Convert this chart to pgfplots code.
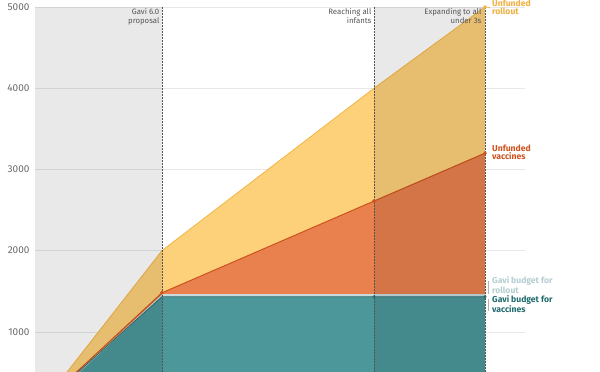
\documentclass[border=0pt]{standalone}
\usepackage{pgfplots}
\pgfplotsset{compat=1.18}
\usepackage{fontspec}
\setmainfont{Fira Sans}
\definecolor{yel}{HTML}{FDD07A}
\definecolor{yelline}{HTML}{F2B646}
\definecolor{yellab}{HTML}{F0B040}
\definecolor{org}{HTML}{E9814F}
\definecolor{orgline}{HTML}{CF521C}
\definecolor{teal2}{HTML}{4B979A}
\definecolor{tealline}{HTML}{2D6B6D}
\definecolor{tealab}{HTML}{1F6B6E}
\definecolor{light}{HTML}{C7DBDC}
\definecolor{lightlab}{HTML}{B5CDD1}
\definecolor{tick}{HTML}{6A6A6A}
\definecolor{vlab}{HTML}{555555}
\begin{document}
\begin{tikzpicture}
\path[use as bounding box] (0,0) rectangle (600pt,372pt);
\begin{axis}[
  at={(35pt,0pt)}, anchor=south west,
  scale only axis, width=490pt, height=365pt,
  xmin=35, xmax=525, ymin=505, ymax=5000,
  axis line style={draw=none},
  xtick=\empty,
  ytick={1000,2000,3000,4000,5000},
  major tick length=0pt,
  ymajorgrids, grid style={color=black!9, line width=0.5pt},
  yticklabel style={font=\fontsize{10}{12}\selectfont, text=tick, xshift=-2pt},
  /pgf/number format/set thousands separator={},
  /pgf/number format/assume math mode=true,
  clip mode=individual,
]
% stacked areas (drawn as cumulative tops, down to 0)
\addplot[fill=yel, draw=none] coordinates {(35,0)(162,2000)(374,4000)(485,5000)(485,0)} --cycle;
\addplot[fill=org, draw=none] coordinates {(35,0)(162,1480)(374,2610)(485,3200)(485,0)} --cycle;
\addplot[fill=light, draw=none] coordinates {(35,0)(162,1460)(374,1460)(485,1460)(485,0)} --cycle;
\addplot[fill=teal2, draw=none] coordinates {(35,0)(162,1431)(374,1431)(485,1431)(485,0)} --cycle;
% lines
\addplot[yelline, line width=0.8pt] coordinates {(35,0)(162,2000)(374,4000)(485,5000)};
\addplot[light, line width=1.2pt] coordinates {(162,1460)(374,1460)(485,1460)};
\addplot[tealline, line width=0.8pt] coordinates {(35,30)(162,1431)(374,1431)(485,1431)};
\addplot[orgline, line width=1pt] coordinates {(35,30)(162,1480)(374,2610)(485,3200)};
% grey bands
\addplot[fill=black, fill opacity=0.085, draw=none] coordinates {(35,505)(162,505)(162,5000)(35,5000)} --cycle;
\addplot[fill=black, fill opacity=0.085, draw=none] coordinates {(374,505)(485,505)(485,5000)(374,5000)} --cycle;
% vertical dotted lines
\addplot[vlab, densely dotted, line width=0.5pt] coordinates {(162,505)(162,5000)};
\addplot[vlab, densely dotted, line width=0.5pt] coordinates {(374,505)(374,5000)};
\addplot[vlab, densely dotted, line width=0.5pt] coordinates {(485,505)(485,5000)};
% markers
\addplot[only marks, mark=*, mark size=1.6pt, orgline] coordinates {(162,1480)(374,2610)(485,3200)};
\addplot[only marks, mark=*, mark size=1.3pt, tealline] coordinates {(374,1431)(485,1431)};
\addplot[only marks, mark=*, mark size=1.6pt, yelline] coordinates {(485,5000)};
% leader ticks
\draw[yelline, line width=0.6pt] (axis cs:486,5000) -- (axis cs:490,4990);
\draw[black!30, line width=0.5pt] (axis cs:488,1620) -- (axis cs:488,1470);
\draw[black!30, line width=0.5pt] (axis cs:488,1400) -- (axis cs:488,1260);
% vertical line labels
\node[anchor=north east, inner sep=0pt, align=right, text=vlab, font=\fontsize{7.8}{9}\selectfont] at (axis cs:159.5,4985) {Gavi 6.0\\proposal};
\node[anchor=north east, inner sep=0pt, align=right, text=vlab, font=\fontsize{7.8}{9}\selectfont] at (axis cs:371.5,4985) {Reaching all\\infants};
\node[anchor=north east, inner sep=0pt, align=right, text=vlab, font=\fontsize{7.8}{9}\selectfont] at (axis cs:481.5,4985) {Expanding to all\\under 3s};
% series labels
\node[anchor=north west, inner sep=0pt, align=left, text=yellab, font=\bfseries\fontsize{8.6}{7.8}\selectfont] at (axis cs:492,5085) {Unfunded\\rollout};
\node[anchor=west, inner sep=0pt, align=left, text=orgline, font=\bfseries\fontsize{8.6}{7.8}\selectfont] at (axis cs:492,3208) {Unfunded\\vaccines};
\node[anchor=west, inner sep=0pt, align=left, text=lightlab, font=\bfseries\fontsize{8.6}{7.8}\selectfont] at (axis cs:492,1576) {Gavi budget for\\rollout};
\node[anchor=west, inner sep=0pt, align=left, text=tealab, font=\bfseries\fontsize{8.6}{7.8}\selectfont] at (axis cs:492,1336) {Gavi budget for\\vaccines};
\end{axis}
\end{tikzpicture}
\end{document}
